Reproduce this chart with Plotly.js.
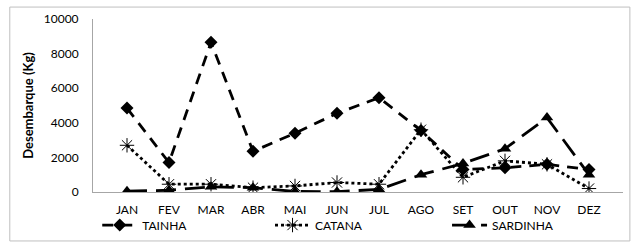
<!DOCTYPE html>
<html><head><meta charset="utf-8">
<script src="https://cdn.plot.ly/plotly-3.0.1.min.js"></script>
<style>body{margin:0;padding:0;background:#fff}#c{width:632px;height:242px}</style>
</head><body><div id="c"></div>
<script>
const months = ["JAN","FEV","MAR","ABR","MAI","JUN","JUL","AGO","SET","OUT","NOV","DEZ"];
const tainha = [4850,1700,8650,2350,3400,4550,5450,3550,1300,1400,1600,1300];
const catana = [2700,450,450,250,350,550,450,3600,850,1800,1600,200];
const sardinha = [50,100,300,250,30,20,150,1000,1650,2500,4300,1000];
const yTicks = [0,2000,4000,6000,8000,10000];
const yTickText = ["0","2000","4000","6000","8000","10000"];

const font = {family:"Lato, 'Open Sans', sans-serif", size:12, color:"#000"};
const traces = [
  {x:months,y:tainha,name:"TAINHA",mode:"lines+markers",legend:"legend",
   line:{color:"#000",width:2.8,dash:"11px,8px"},marker:{symbol:"diamond",size:10,color:"#000"}},
  {x:months,y:catana,name:"CATANA",mode:"lines+markers",legend:"legend2",
   line:{color:"#000",width:2.8,dash:"3px,3px"},marker:{symbol:"asterisk-open",size:12,color:"#000",line:{width:1,color:"#000"}}},
  {x:months,y:sardinha,name:"SARDINHA",mode:"lines+markers",legend:"legend3",
   line:{color:"#000",width:2.8,dash:"20px,9px"},marker:{symbol:"triangle-up",size:11,color:"#000"}}
];
const leg = (x) => ({orientation:"h",x:x,y:0.07,xref:"paper",yref:"container",xanchor:"left",yanchor:"middle",
  itemwidth:35,font:{family:font.family,size:12},bgcolor:"rgba(0,0,0,0)",borderwidth:0});
const layout = {
  width:632,height:242,
  margin:{l:93,r:9,t:19,b:50},
  paper_bgcolor:"#fff",plot_bgcolor:"#fff",
  font:font,
  showlegend:true,
  legend:leg(0.008),
  legend2:leg(0.334),
  legend3:leg(0.668),
  xaxis:{type:"category",showline:true,linecolor:"#a6a6a6",linewidth:1,showgrid:false,
    ticks:"",tickfont:{size:12},ticklabelstandoff:7,zeroline:false,fixedrange:true,automargin:false},
  yaxis:{range:[0,10000],tickvals:yTicks,ticktext:yTickText,showline:true,linecolor:"#a6a6a6",linewidth:1,
    showgrid:false,zeroline:false,ticks:"",tickfont:{size:12},ticklabelstandoff:11,automargin:false,
    title:{text:"Desembarque (Kg)",font:{size:13,family:font.family,weight:"bold"},standoff:7}},
  shapes:[{type:"rect",xref:"paper",yref:"paper",x0:-0.157,x1:1.013,y0:-0.283,y1:1.069,
    line:{color:"#bfbfbf",width:1},fillcolor:"rgba(0,0,0,0)",layer:"below"}]
};
Plotly.newPlot("c",traces,layout,{displayModeBar:false,staticPlot:true});
</script></body></html>
